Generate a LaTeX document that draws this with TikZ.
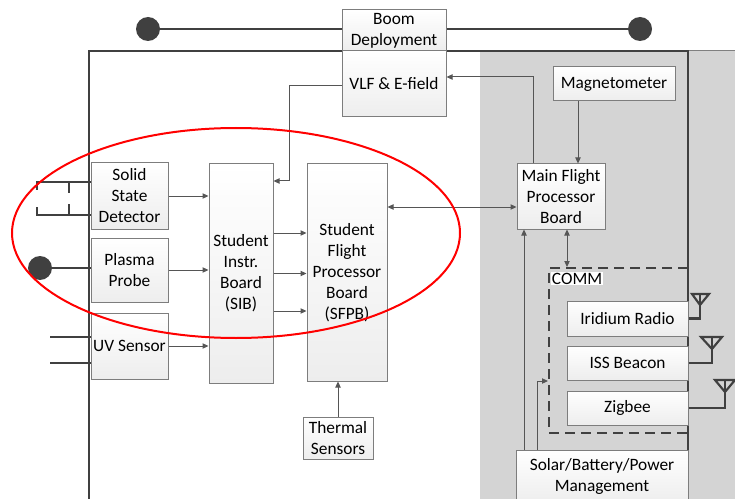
\documentclass[tikz,border=0pt]{standalone}
\usepackage{fontspec}
\setmainfont{Carlito}
\usetikzlibrary{arrows.meta,calc}
\definecolor{ln}{RGB}{64,64,64}
\definecolor{bx}{RGB}{125,125,125}
\definecolor{gr}{RGB}{212,212,212}
\definecolor{ar}{RGB}{85,85,85}
\begin{document}
\begin{tikzpicture}[x=0.75pt,y=-0.75pt,
  box/.style={draw=bx, line width=0.75pt, top color=white, bottom color=gray!14,
    align=center, inner sep=1pt, font=\fontsize{13}{15.75}\selectfont},
  arr/.style={draw=ar, line width=0.75pt, -{Triangle[length=4.5pt,width=4pt]}},
  darr/.style={draw=ar, line width=0.75pt, {Triangle[length=4.5pt,width=4pt]}-{Triangle[length=4.5pt,width=4pt]}},
  heavy/.style={draw=ln, line width=2pt},
  dot/.style={circle, fill=ln, minimum size=18pt, inner sep=0pt}
]
\clip (0,0) rectangle (735,499);
% background regions
\fill[gr] (480,51) rectangle (735,510);
\draw[gray, line width=0.75pt] (688,51) -- (735,51);
\draw[ln, line width=1.5pt] (89,510) -- (89,51) -- (688,51) -- (688,510);

% boom deployment
\node[dot] (bl) at (148,29) {};
\node[dot] (br) at (640,29) {};
\node[box, minimum width=78pt, minimum height=30.75pt] (boom) at (394,30.5) {Boom\\Deployment};
\draw[heavy] (bl.center) -- (boom.west |- bl.center);
\draw[heavy] (boom.east |- br.center) -- (br.center);

% nodes
\node[box, minimum width=78pt, minimum height=49.5pt] (vlf) at (394,84) {VLF \& E-field};
\node[box, minimum width=91.5pt, minimum height=25.5pt] (mag) at (614,84) {Magnetometer};
\node[box, minimum width=66pt, minimum height=48.75pt] (mfpb) at (561,196.5) {Main Flight\\Processor\\Board};
\node[box, minimum width=57.75pt, minimum height=49.5pt] (ssd) at (129.5,196) {Solid\\State\\Detector};
\node[box, minimum width=57.75pt, minimum height=48pt] (plasma) at (129.5,270) {Plasma\\Probe};
\node[box, minimum width=57.75pt, minimum height=49.5pt] (uv) at (129.5,346) {UV Sensor};
\node[box, minimum width=48pt, minimum height=164.25pt] (sib) at (241,273.5) {Student\\Instr.\\Board\\(SIB)};
\node[box, minimum width=60pt, minimum height=162.75pt] (sfpb) at (347,272.5) {Student\\Flight\\Processor\\Board\\(SFPB)};
\node[box, minimum width=52.5pt, minimum height=31.5pt] (therm) at (338,438) {Thermal\\Sensors};
\node[draw=ln, line width=1.5pt, dash pattern=on 7.5pt off 4.5pt, minimum width=104.25pt, minimum height=123.75pt] (comm) at (618.5,350.5) {};
\node[fill=white, inner sep=0.5pt, anchor=north west, font=\fontsize{13}{15.75}\selectfont] (commlbl) at (551,272) {COMM};
\node[box, minimum width=90.75pt, minimum height=26.25pt] (iri) at (627.5,318.5) {Iridium Radio};
\node[box, minimum width=90.75pt, minimum height=25.5pt] (iss) at (627.5,363) {ISS Beacon};
\node[box, minimum width=90.75pt, minimum height=25.5pt] (zig) at (627.5,408) {Zigbee};
\node[box, minimum width=129pt, minimum height=39.75pt] (solar) at (602,476.5) {Solar/Battery/Power\\Management};

% sensor symbols on the left
\draw[heavy] (37,190) -- (37,182) -- (ssd.west |- 0,182);
\draw[heavy] (37,207) -- (37,215) -- (ssd.west |- 0,215);
\draw[heavy] (69,182) -- (69,193);
\draw[heavy] (69,204) -- (69,215);
\node[dot] (pp) at (40,268) {};
\draw[heavy] (pp.center) -- (pp.center -| plasma.west);
\draw[heavy] (50,337) -- (uv.west |- 0,337);
\draw[heavy] (50,363) -- (uv.west |- 0,363);

% antennas
\coordinate (a1) at (700,294);
\coordinate (a2) at (712,337);
\coordinate (a3) at (725,380);
\draw[heavy, line width=1.6pt] (iri.east) -| (a1);
\draw[heavy, line width=1.6pt] ($(a1)+(-8,0)$) -- ($(a1)+(9,0)$) -- ($(a1)+(0,11)$) -- cycle;
\draw[heavy, line width=1.6pt] (iss.east) -| (a2);
\draw[heavy, line width=1.6pt] ($(a2)+(-11,0)$) -- ($(a2)+(10,0)$) -- ($(a2)+(0,12)$) -- cycle;
\draw[heavy, line width=1.6pt] (zig.east) -| (a3);
\draw[heavy, line width=1.6pt] ($(a3)+(-10,0)$) -- ($(a3)+(10,0)$) -- ($(a3)+(0,12)$) -- cycle;

% connectors
\draw[arr] (ssd.east) -- (ssd.east -| sib.west);
\draw[arr] (plasma.east) -- (plasma.east -| sib.west);
\draw[arr] (uv.east) -- (uv.east -| sib.west);
\coordinate (s1) at (0,233);
\coordinate (s3) at (0,311);
\draw[arr] (sib.east |- s1) -- (sfpb.west |- s1);
\draw[arr] (sib.east) -- (sib.east -| sfpb.west);
\draw[arr] (sib.east |- s3) -- (sfpb.west |- s3);
\coordinate (k1) at (289,86);
\coordinate (k2) at (289,181);
\draw[arr] (vlf.west |- k1) -- (k1) -- (k2) -- (k2 -| sib.east);
\coordinate (k3) at (533,77);
\draw[arr] (k3 |- mfpb.north) -- (k3) -- (k3 -| vlf.east);
\coordinate (k4) at (578,0);
\draw[arr] (k4 |- mag.south) -- (k4 |- mfpb.north);
\coordinate (k5) at (0,207);
\draw[darr] (sfpb.east |- k5) -- (mfpb.west |- k5);
\coordinate (k6) at (524,0);
\draw[arr] (k6 |- solar.north) -- (k6 |- mfpb.south);
\coordinate (k7) at (567,0);
\draw[darr] (k7 |- mfpb.south) -- (k7 |- comm.north);
\coordinate (k8) at (537,381);
\draw[arr] (k8 |- solar.north) -- (k8) -- (k8 -| comm.west);
\draw[arr] (therm.north) -- (therm.north |- sfpb.south);

% red ellipse
\draw[red, line width=1.5pt] (236,233) ellipse [x radius=168pt, y radius=78.75pt];
\end{tikzpicture}
\end{document}
